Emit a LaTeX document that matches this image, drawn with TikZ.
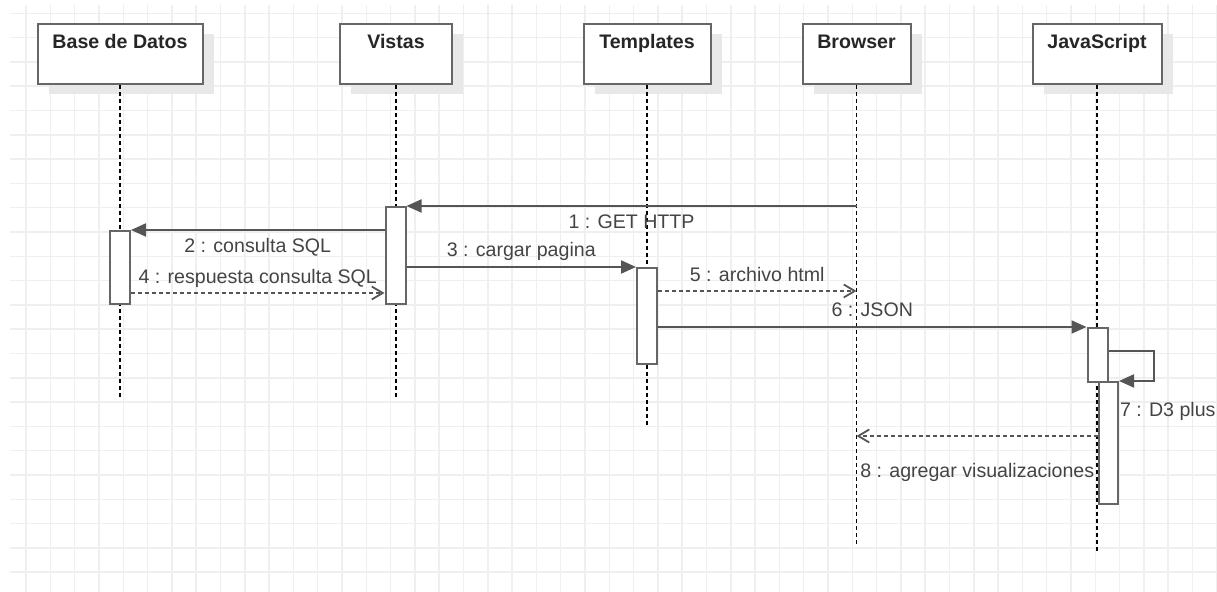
\documentclass[tikz,border=0pt]{standalone}
\usepackage{fontspec}
\setmainfont{Liberation Sans}
\usepackage{tikz}
\usetikzlibrary{arrows.meta,positioning,calc,shadows}
\definecolor{linegray}{HTML}{555555}
\definecolor{boxgray}{HTML}{666666}
\definecolor{textgray}{HTML}{444444}
\definecolor{gridgray}{HTML}{EFEFEF}
\newcommand{\diafont}{\fontsize{9.8pt}{12pt}\selectfont}
\tikzset{obj/.style={draw=boxgray,line width=1pt,fill=white,minimum height=30pt,inner sep=0pt,
    drop shadow={shadow xshift=5.5pt,shadow yshift=-5pt,fill=black!9,opacity=1}}}
\tikzset{hdr/.style={font=\diafont\bfseries,text=black!85,anchor=base,yshift=-13pt}}
\tikzset{act/.style={draw=boxgray,line width=1pt,fill=white,minimum width=10pt,inner sep=0pt}}
\tikzset{lifeline/.style={draw=black,line width=0.65pt,dash pattern=on 2pt off 1.5pt}}
\tikzset{msg/.style={draw=linegray,line width=1pt,-{Triangle[length=7.5pt,width=6.5pt]}}}
\tikzset{reply/.style={draw=linegray,line width=0.9pt,dash pattern=on 2pt off 1.5pt,-{Straight Barb[length=5.5pt,width=6.5pt]}}}
\tikzset{lbl/.style={text=textgray,text height=7pt,text depth=2pt,inner sep=2.5pt}}
\begin{document}
\begin{tikzpicture}[x=0.5pt, y=-0.5pt, font=\diafont]
    \useasboundingbox (0,0) rectangle (1217,592);
    % grid
    \foreach \k in {0,...,49} \draw[gridgray, line width=0.75pt] (26.1+24.3*\k,5) -- (26.1+24.3*\k,592);
    \foreach \k in {0,...,23} \draw[gridgray, line width=0.75pt] (10,13.3+24.3*\k) -- (1217,13.3+24.3*\k);

    % objects
    \node[obj, minimum width=82.5pt] (bd) at (120,54) {};
    \node[obj, minimum width=56pt] (vi) at (396,54) {};
    \node[obj, minimum width=63.5pt] (te) at (647,54) {};
    \node[obj, minimum width=54pt] (br) at (856.5,54) {};
    \node[obj, minimum width=64.5pt] (js) at (1097,54) {};
    \node[hdr] at (bd.north) {Base de Datos};
    \node[hdr] at (vi.north) {Vistas};
    \node[hdr] at (te.north) {Templates};
    \node[hdr] at (br.north) {Browser};
    \node[hdr] at (js.north) {JavaScript};

    % lifelines
    \coordinate (bdend) at (120,400);
    \coordinate (viend) at (396,400);
    \coordinate (teend) at (647,425);
    \coordinate (brend) at (856.5,545);
    \coordinate (jsend) at (1097,553);
    \path (bd) edge[lifeline] (bdend);
    \path (vi) edge[lifeline] (viend);
    \path (te) edge[lifeline] (teend);
    \path (br) edge[lifeline] (brend);
    \path (js) edge[lifeline] (jsend);

    % activations
    \node[act, minimum height=36.5pt] (bd1) at (120,267.5) {};
    \node[act, minimum height=48.5pt] (vi1) at (395.5,255.5) {};
    \node[act, minimum height=48pt] (te1) at (647,316) {};
    \node[act, minimum height=27pt] (js1) at (1097.5,355) {};
    \node[act, minimum width=9.5pt, minimum height=61pt] (js2) at (1108.5,443) {};

    % messages
    \path (br |- vi1.north east) edge[msg] node[lbl, below=1.3pt] {1 : GET HTTP} (vi1.north east);
    \path (vi1.west |- bd1.north) edge[msg] node[lbl, below=1.3pt] {2 : consulta SQL} (bd1.north east);
    \path (vi1.east |- te1.north) edge[msg] node[lbl, above] {3 : cargar pagina} (te1.north west);
    \coordinate (r4) at ([yshift=6pt]bd1.south east);
    \path (r4) edge[reply] node[lbl, above] {4 : respuesta consulta SQL} (vi1.west |- r4);
    \coordinate (r5) at ([yshift=-12pt]te1.north east);
    \path (r5) edge[reply] node[lbl, above] {5 : archivo html} (br |- r5);
    \path (te1.east |- js1.north) edge[msg] node[lbl, above] {6 : JSON} (js1.north west);
    \coordinate (s7) at ([yshift=-12pt]js1.north east);
    \draw[msg] (s7) -- ++(45,0) |- (js2.north east) node[lbl, anchor=north west, inner xsep=0pt, yshift=-8pt] {7 : D3 plus};
    \coordinate (r8) at ([yshift=-27.5pt]js2.north west);
    \path (r8) edge[reply] node[lbl, below=10.8pt] {8 : agregar visualizaciones} (br |- r8);
\end{tikzpicture}
\end{document}
